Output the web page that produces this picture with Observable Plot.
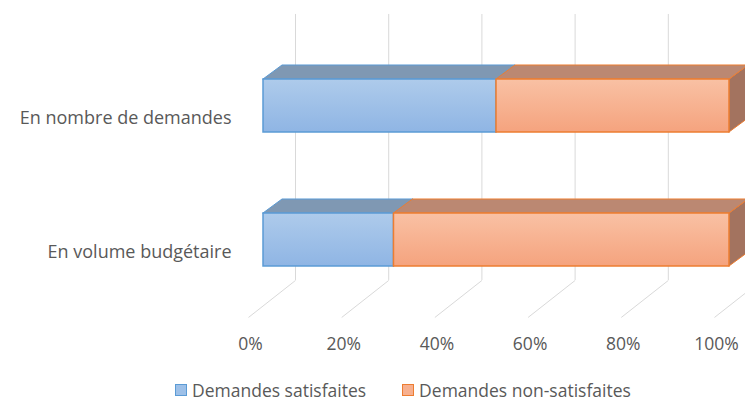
<!DOCTYPE html>
<html>
<head>
<meta charset="utf-8">
<script src="https://cdn.jsdelivr.net/npm/d3@7"></script>
<script src="https://cdn.jsdelivr.net/npm/@observablehq/plot@0.6"></script>
<style>
  html, body { margin: 0; background: #fff; font-family: "Open Sans", sans-serif; overflow: hidden; }
  #chart svg { display: block; }
  #legend { height: 24px; display: flex; align-items: center; padding-left: 175px; color: #595959; font-size: 17.5px; line-height: 24px; }
  .sw { width: 10px; height: 10px; display: inline-block; margin-right: 5px; }
  .item { display: flex; align-items: center; margin-right: 36px; }
</style>
</head>
<body>
<div id="chart"></div>
<div id="legend"></div>
<script>
// ---- data ----
const categories = ["En nombre de demandes", "En volume budgétaire"];
const series = ["Demandes satisfaites", "Demandes non-satisfaites"];
const satisfied = [50, 28];
const nonSatisfied = [50, 72];
const ticks = [0, 20, 40, 60, 80, 100];

// ---- style ----
const styles = {
  "Demandes satisfaites": {grad: "gBlue", top0: "#aecbeb", bot0: "#8fb5e4", edge: "#5b9bd5", topFace: "#7f98b3", side: "#6f87a3", swatch: "#9dc0e8"},
  "Demandes non-satisfaites": {grad: "gOrange", top0: "#f9c1a4", bot0: "#f5a37e", edge: "#ed7d31", topFace: "#bb8872", side: "#a3735f", swatch: "#f7b08f"}
};

// segments
const segs = [];
categories.forEach((c, i) => {
  const vals = [satisfied[i], nonSatisfied[i]];
  let acc = 0;
  vals.forEach((v, k) => {
    segs.push({cat: c, i, series: series[k], x0: acc, x1: acc + v, id: i + "-" + k});
    acc += v;
  });
});

// 3D layout (in scale units)
const W = 745, H = 378;
const barH = 0.3955;          // front face thickness (rows)
const dX = 4.08, dY = -0.1045; // bar depth offset
const wallDx = 6.87, wallTop = -0.683, wallBottom = 1.302;
const floorDx = -3.22, floorFront = 1.578;
const labelRow = 1.78;

const topPts = segs.flatMap(s => [
  {id: s.id, series: s.series, y: s.i - barH / 2, a: s.x0, b: s.x1},
  {id: s.id, series: s.series, y: s.i - barH / 2 + dY, a: s.x0 + dX, b: s.x1 + dX}
]);
const sidePts = segs.flatMap(s => [
  {id: s.id, series: s.series, x: s.x1, a: s.i - barH / 2, b: s.i + barH / 2},
  {id: s.id, series: s.series, x: s.x1 + dX, a: s.i - barH / 2 + dY, b: s.i + barH / 2 + dY}
]);

const defs = () => {
  const d = d3.create("svg:defs");
  for (const k of series) {
    const st = styles[k];
    const g = d.append("linearGradient").attr("id", st.grad).attr("x1", 0).attr("y1", 0).attr("x2", 0).attr("y2", 1);
    g.append("stop").attr("offset", "0%").attr("stop-color", st.top0);
    g.append("stop").attr("offset", "100%").attr("stop-color", st.bot0);
  }
  return d.node();
};

const marks = [
  defs,
  Plot.ruleX(ticks, {x: d => d + wallDx, y1: wallTop, y2: wallBottom, stroke: "#d9d9d9", strokeWidth: 1}),
  Plot.link(ticks, {x1: d => d + wallDx, y1: wallBottom, x2: d => d + floorDx, y2: floorFront, stroke: "#d9d9d9", strokeWidth: 1})
];
for (const k of series) {
  const st = styles[k];
  marks.push(Plot.areaY(sidePts.filter(p => p.series === k), {x: "x", y1: "a", y2: "b", z: "id", fill: st.side, stroke: st.edge, strokeWidth: 1}));
}
for (const k of series) {
  const st = styles[k];
  marks.push(Plot.areaX(topPts.filter(p => p.series === k), {y: "y", x1: "a", x2: "b", z: "id", fill: st.topFace, stroke: st.edge, strokeWidth: 1}));
}
for (const k of series) {
  const st = styles[k];
  marks.push(Plot.rect(segs.filter(s => s.series === k), {x1: "x0", x2: "x1", y1: s => s.i - barH / 2, y2: s => s.i + barH / 2, fill: `url(#${st.grad})`, stroke: st.edge, strokeWidth: 1.5}));
}
marks.push(
  Plot.text(ticks, {x: d => d, y: labelRow, dx: -13, text: d => d + "%", fill: "#595959", fontSize: 17.5, fontFamily: "Open Sans"}),
  Plot.text(categories, {x: 0, y: (d, i) => i, dx: -32, dy: 12, text: d => d, textAnchor: "end", fill: "#595959", fontSize: 18, fontFamily: "Open Sans"})
);

const chart = Plot.plot({
  width: W, height: H,
  marginLeft: 263, marginRight: 16, marginTop: 0, marginBottom: 0,
  x: {domain: [0, 100], range: [263, 729], axis: null},
  y: {domain: [-105.5 / 134, (H - 105.5) / 134], range: [0, H], axis: null},
  style: {fontFamily: "Open Sans", background: "#fff"},
  marks
});
document.getElementById("chart").appendChild(chart);

// legend
const lg = document.getElementById("legend");
for (const k of series) {
  const st = styles[k];
  const it = document.createElement("span");
  it.className = "item";
  it.innerHTML = `<span class="sw" style="background:${st.swatch};border:1px solid ${st.edge}"></span><span>${k}</span>`;
  lg.appendChild(it);
}
</script>
</body>
</html>
